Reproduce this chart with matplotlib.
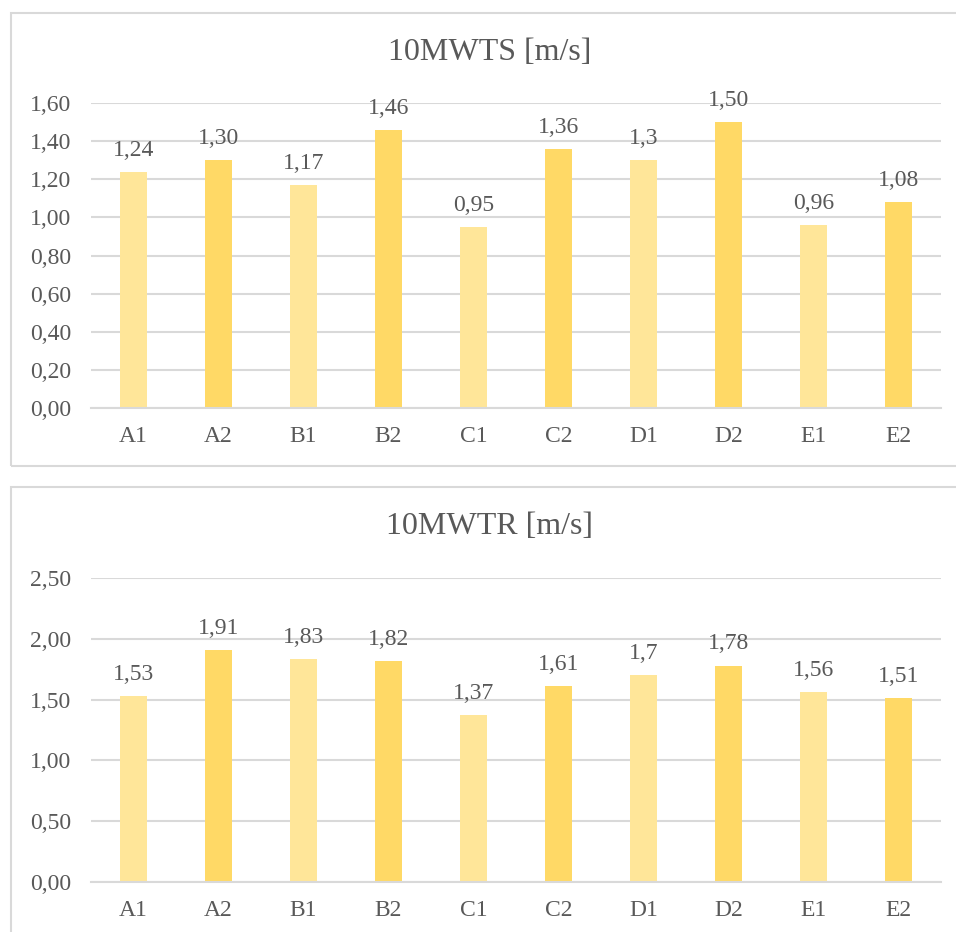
import matplotlib.pyplot as plt
from matplotlib.patches import Rectangle

# dados
grupos = ['A1', 'A2', 'B1', 'B2', 'C1', 'C2', 'D1', 'D2', 'E1', 'E2']
mwts = [1.24, 1.30, 1.17, 1.46, 0.95, 1.36, 1.30, 1.50, 0.96, 1.08]
mwts_rot = ['1,24', '1,30', '1,17', '1,46', '0,95', '1,36', '1,3', '1,50', '0,96', '1,08']
mwtr = [1.53, 1.91, 1.83, 1.82, 1.37, 1.61, 1.70, 1.78, 1.56, 1.51]
mwtr_rot = ['1,53', '1,91', '1,83', '1,82', '1,37', '1,61', '1,7', '1,78', '1,56', '1,51']
ticks_s = [0, 0.2, 0.4, 0.6, 0.8, 1.0, 1.2, 1.4, 1.6]
ticks_s_rot = ['0,00', '0,20', '0,40', '0,60', '0,80', '1,00', '1,20', '1,40', '1,60']
ticks_r = [0, 0.5, 1.0, 1.5, 2.0, 2.5]
ticks_r_rot = ['0,00', '0,50', '1,00', '1,50', '2,00', '2,50']

claro = '#FFE699'
escuro = '#FFD966'
cores = [claro, escuro] * 5
cinza = '#595959'
grade = '#D9D9D9'

plt.rcParams['font.family'] = ['Liberation Serif', 'DejaVu Serif']

W, H = 956, 932
fig = plt.figure(figsize=(W / 100, H / 100), dpi=100)

# molduras dos gráficos (em pixels)
def caixa(x0, y0, x1, y1):
    fig.patches.append(Rectangle((x0 / W, 1 - y1 / H), (x1 - x0) / W, (y1 - y0) / H,
                                 transform=fig.transFigure, fill=False,
                                 edgecolor=grade, linewidth=1.5))

caixa(11, 13, 990, 466)
caixa(11, 487, 990, 960)


def grafico(topo, base, valores, rotulos, ticks, ticks_rot, titulo, y_tit):
    ax = fig.add_axes([91 / W, 1 - base / H, 850 / W, (base - topo) / H])
    barras = ax.bar(grupos, valores, width=0.32, color=cores, zorder=3)
    ax.bar_label(barras, labels=rotulos, padding=8, fontsize=17, color=cinza)
    ax.set_xlim(-0.5, 9.5)
    ax.set_ylim(ticks[0], ticks[-1])
    ax.set_yticks(ticks, ticks_rot)
    ax.yaxis.grid(True, color=grade, linewidth=1.5, zorder=0)
    ax.tick_params(axis='y', length=0, pad=14, labelsize=17, labelcolor=cinza)
    ax.tick_params(axis='x', length=0, pad=13, labelsize=17, labelcolor=cinza)
    for lado in ['top', 'right', 'left']:
        ax.spines[lado].set_visible(False)
    ax.spines['bottom'].set_color(grade)
    ax.spines['bottom'].set_linewidth(1.5)
    ax.spines['bottom'].set_zorder(4)
    fig.text(490 / W, 1 - y_tit / H, titulo, ha='center', va='center',
             fontsize=23, color=cinza)
    return ax


grafico(103, 408, mwts, mwts_rot, ticks_s, ticks_s_rot, '10MWTS [m/s]', 53)
grafico(578, 882, mwtr, mwtr_rot, ticks_r, ticks_r_rot, '10MWTR [m/s]', 527)

fig.savefig('out.png', dpi=100)
